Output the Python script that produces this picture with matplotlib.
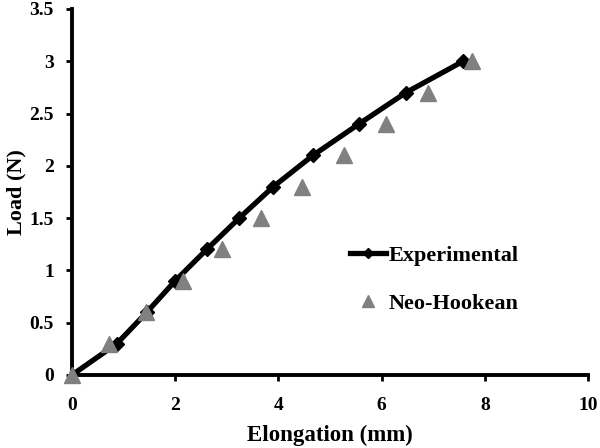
import matplotlib
matplotlib.use("Agg")
import matplotlib.pyplot as plt

# datos
exp_x = [0, 0.87, 1.45, 2.0, 2.61, 3.24, 3.9, 4.67, 5.56, 6.47, 7.58]
exp_y = [0, 0.3, 0.6, 0.9, 1.2, 1.5, 1.8, 2.1, 2.4, 2.7, 3.0]
neo_x = [0, 0.71, 1.43, 2.16, 2.9, 3.66, 4.46, 5.28, 6.08, 6.9, 7.76]
neo_y = [0, 0.3, 0.6, 0.9, 1.2, 1.5, 1.8, 2.1, 2.4, 2.7, 3.0]

x_ticks = [0, 2, 4, 6, 8, 10]
y_ticks = [0, 0.5, 1, 1.5, 2, 2.5, 3, 3.5]
y_labels = ["0", "0.5", "1", "1.5", "2", "2.5", "3", "3.5"]

plt.rcParams['font.family'] = ['Liberation Serif', 'DejaVu Serif']
plt.rcParams['font.weight'] = 'bold'

fig = plt.figure(figsize=(6, 4.48), dpi=100)
ax = fig.add_axes([0.12, 0.163, 0.86, 0.817])

ax.plot(exp_x, exp_y, color='black', lw=3.8, marker='D', ms=7,
        label='Experimental', zorder=2)
ax.plot(neo_x, neo_y, ls='none', marker='^', color='#808080', ms=12,
        label='Neo-Hookean', zorder=3, clip_on=False)

ax.set_xlim(0, 10)
ax.set_ylim(0, 3.5)
ax.set_xticks(x_ticks)
ax.set_yticks(y_ticks)
ax.set_yticklabels(y_labels)

for s in ['top', 'right']:
    ax.spines[s].set_visible(False)
for s in ['left', 'bottom']:
    ax.spines[s].set_linewidth(2.8)
ax.tick_params(direction='out', length=4, width=2, labelsize=14, pad=9)
ax.tick_params(axis='x', pad=12)
for lab in ax.get_xticklabels() + ax.get_yticklabels():
    lab.set_fontweight('bold')

ax.set_xlabel('Elongation (mm)', fontsize=16.5, fontweight='bold', labelpad=8)
ax.set_ylabel('Load (N)', fontsize=16, fontweight='bold')
ax.yaxis.set_label_coords(-0.088, 0.5)

ax.legend(loc='center left', bbox_to_anchor=(0.5, 0.26), frameon=False,
          handlelength=1.6, handletextpad=0.15, labelspacing=1.25,
          markerscale=0.75, prop={'weight': 'bold', 'size': 16})

fig.savefig('out.png', dpi=100)
